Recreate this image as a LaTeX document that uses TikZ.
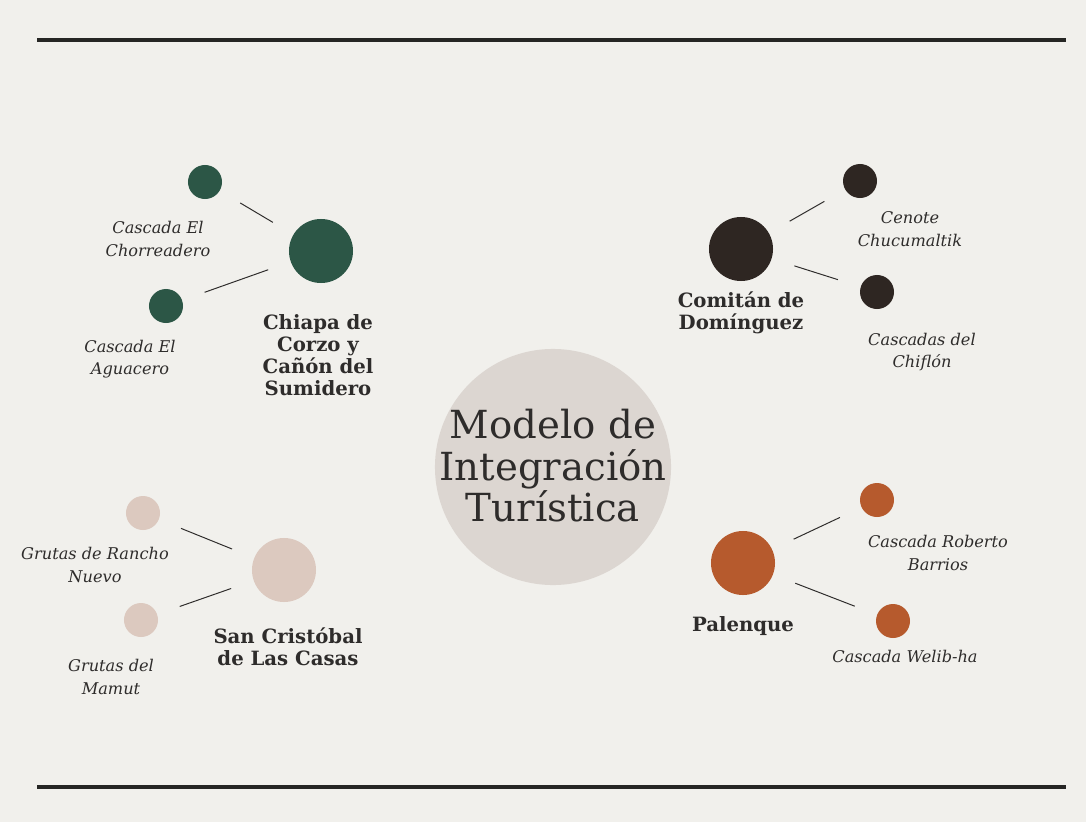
\documentclass[tikz,border=0pt]{standalone}
\usepackage{fontspec}
\setmainfont{DejaVu Serif}
\usetikzlibrary{positioning, calc}

\definecolor{paper}{HTML}{F1F0EC}
\definecolor{ink}{HTML}{2E2C2B}
\definecolor{rulecol}{HTML}{262624}
\definecolor{hubgray}{HTML}{DCD6D1}
\definecolor{chiapagreen}{HTML}{2C5646}
\definecolor{comitanbrown}{HTML}{2E2622}
\definecolor{sancrisrose}{HTML}{DCC9BF}
\definecolor{palenquerust}{HTML}{B65A2D}

\begin{document}
\begin{tikzpicture}[x=0.025cm, y=-0.025cm]
\tikzset{city/.style={
    circle, fill=#1, minimum size=1.6cm, inner sep=0pt, outer sep=0pt},
    spot/.style={
    circle, fill=#1, minimum size=0.85cm, inner sep=0pt, outer sep=0pt},
    citytxt/.style={
    text=ink, align=center, font=\fontsize{14}{15.6}\selectfont\bfseries},
    spottxt/.style={
    text=ink, align=center, font=\fontsize{11.5}{16}\selectfont\itshape},
    link/.style={
    draw=ink, line width=0.7pt, shorten >=0.6cm, shorten <=0.6cm}
}

    % page and rules
    \fill[paper] (0,0) rectangle (1086,822);
    \useasboundingbox (0,0) rectangle (1086,822);
    \coordinate (rule_tl) at (37,40);
    \coordinate (rule_tr) at (1066,40);
    \coordinate (rule_bl) at (37,787);
    \coordinate (rule_br) at (1066,787);
    \draw[rulecol, line width=2.6pt] (rule_tl) -- (rule_tr);
    \draw[rulecol, line width=2.6pt] (rule_bl) -- (rule_br);

    % centre
    \node[circle, fill=hubgray, minimum size=5.9cm, inner sep=0pt] (hub) at (553,467) {};
    \node[text=ink, align=center, font=\fontsize{27.5}{29.5}\selectfont] (title) at (553,466)
        {Modelo de\\Integración\\Turística};

    % Chiapa de Corzo
    \coordinate (chiapa_c) at (321,251);
    \path (chiapa_c) node[city=chiapagreen] (chiapa) {};
    \node[spot=chiapagreen] (chorreadero) at (205,182) {};
    \node[spot=chiapagreen] (aguacero) at (166,306) {};
    \node[citytxt] (chiapa_t) at (318,355) {Chiapa de\\Corzo y\\Cañón del\\Sumidero};
    \node[spottxt] (chorreadero_t) at (158,239) {Cascada El\\Chorreadero};
    \node[spottxt] (aguacero_t) at (130,359) {Cascada El\\Aguacero};
    \draw[link] (chiapa) -- (chorreadero);
    \draw[link] (chiapa) -- (aguacero);

    % Comitan
    \coordinate (comitan_c) at (741,249);
    \path (comitan_c) node[city=comitanbrown] (comitan) {};
    \node[spot=comitanbrown] (cenote) at (860,181) {};
    \node[spot=comitanbrown] (chiflon) at (877,292) {};
    \node[citytxt] (comitan_t) at (741,313) {Comitán de\\Domínguez};
    \node[spottxt] (cenote_t) at (910,229) {Cenote\\Chucumaltik};
    \node[spottxt] (chiflon_t) at (922,352) {Cascadas del\\Chiflón};
    \draw[link] (comitan) -- (cenote);
    \draw[link] (comitan) -- (chiflon);

    % San Cristobal
    \coordinate (sancris_c) at (284,570);
    \path (sancris_c) node[city=sancrisrose] (sancris) {};
    \node[spot=sancrisrose] (rancho) at (143,513) {};
    \node[spot=sancrisrose] (mamut) at (141,620) {};
    \node[citytxt] (sancris_t) at (288,647) {San Cristóbal\\de Las Casas};
    \node[spottxt] (rancho_t) at (95,565) {Grutas de Rancho\\Nuevo};
    \node[spottxt] (mamut_t) at (111,677) {Grutas del\\Mamut};
    \draw[link] (sancris) -- (rancho);
    \draw[link] (sancris) -- (mamut);

    % Palenque
    \coordinate (palenque_c) at (743,563);
    \path (palenque_c) node[city=palenquerust] (palenque) {};
    \node[spot=palenquerust] (barrios) at (877,500) {};
    \node[spot=palenquerust] (welib) at (893,621) {};
    \node[citytxt] (palenque_t) at (743,626) {Palenque};
    \node[spottxt] (barrios_t) at (938,553) {Cascada Roberto\\Barrios};
    \node[spottxt] (welib_t) at (905,656) {Cascada Welib-ha};
    \draw[link] (palenque) -- (barrios);
    \draw[link] (palenque) -- (welib);

\end{tikzpicture}
\end{document}
